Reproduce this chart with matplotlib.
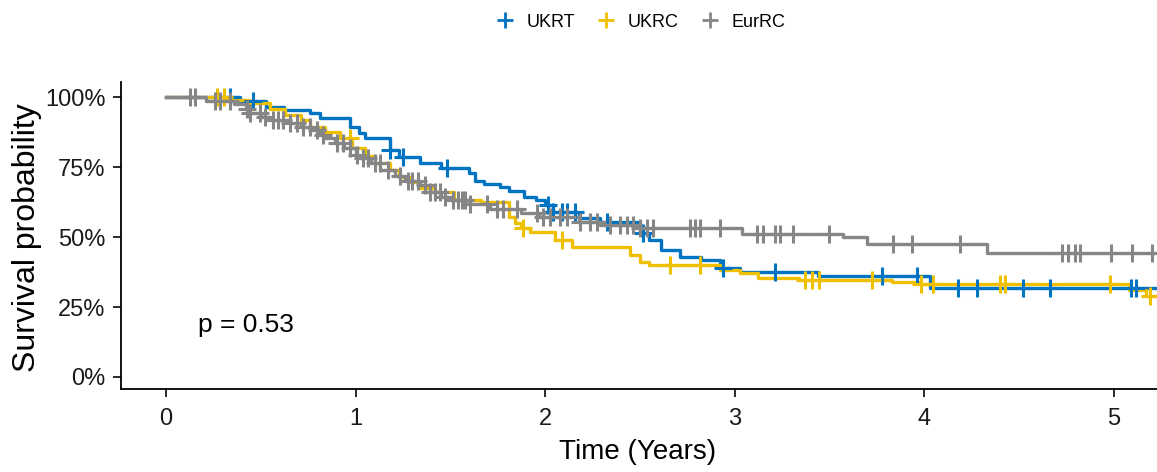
import numpy as np
import matplotlib
matplotlib.use("Agg")
import matplotlib.pyplot as plt
from matplotlib.lines import Line2D

plt.rcParams['font.family'] = ['Liberation Sans', 'DejaVu Sans']

groups = ["UKRT", "UKRC", "EurRC"]
colors = ["#0073C2", "#EFC000", "#868686"]

# Kaplan-Meier steps: event times (years) and survival after each step
ukrt_time = [0, 0.39, 0.53, 0.62, 0.76, 0.81, 0.97, 1.02, 1.05, 1.18, 1.23, 1.34, 1.45,
             1.60, 1.63, 1.68, 1.76, 1.81, 1.89, 1.95, 2.00, 2.04, 2.18, 2.29, 2.50,
             2.55, 2.61, 2.71, 2.82, 2.92, 3.03, 3.44, 4.03, 5.40]
ukrt_surv = [1.0, 0.987, 0.965, 0.954, 0.943, 0.925, 0.893, 0.871, 0.855, 0.81, 0.785,
             0.765, 0.748, 0.73, 0.70, 0.69, 0.678, 0.665, 0.643, 0.632, 0.614, 0.59,
             0.57, 0.553, 0.514, 0.49, 0.455, 0.43, 0.418, 0.39, 0.375, 0.36, 0.32, 0.32]
ukrt_cens = [0.338, 0.459, 1.181, 1.25, 1.482, 2.015, 2.041, 2.089, 2.115, 2.157, 2.326,
             2.516, 2.938, 3.212, 3.776, 3.961, 4.177, 4.277, 4.52, 4.662, 5.09, 5.116]

ukrc_time = [0, 0.31, 0.44, 0.55, 0.63, 0.71, 0.76, 0.84, 0.92, 0.98, 1.05, 1.10, 1.18,
             1.23, 1.29, 1.34, 1.42, 1.52, 1.66, 1.81, 1.84, 1.87, 1.92, 2.05, 2.14,
             2.45, 2.50, 2.55, 2.92, 3.03, 3.12, 3.34, 3.83, 3.97, 5.08, 5.17, 5.40]
ukrc_surv = [1.0, 0.99, 0.978, 0.96, 0.936, 0.918, 0.893, 0.875, 0.854, 0.82, 0.79,
             0.764, 0.74, 0.714, 0.696, 0.675, 0.66, 0.632, 0.625, 0.571, 0.55, 0.532,
             0.518, 0.49, 0.464, 0.436, 0.41, 0.40, 0.382, 0.371, 0.354, 0.346, 0.34,
             0.332, 0.31, 0.29, 0.29]
ukrc_cens = [0.269, 0.306, 0.97, 1.883, 2.089, 2.658, 2.816, 3.37, 3.407, 3.444, 3.724,
             3.982, 4.045, 4.399, 4.425, 4.979, 5.19]

eurrc_time = [0, 0.21, 0.36, 0.42, 0.44, 0.50, 0.55, 0.65, 0.71, 0.76, 0.81, 0.84, 0.89,
              0.94, 1.00, 1.02, 1.08, 1.13, 1.21, 1.26, 1.34, 1.39, 1.45, 1.50, 1.60,
              1.71, 1.87, 1.97, 2.18, 2.29, 2.50, 3.04, 3.57, 3.70, 4.33, 5.40]
eurrc_surv = [1.0, 0.986, 0.975, 0.96, 0.943, 0.93, 0.918, 0.907, 0.893, 0.882, 0.864,
              0.853, 0.836, 0.818, 0.793, 0.782, 0.764, 0.74, 0.72, 0.70, 0.686, 0.66,
              0.643, 0.632, 0.62, 0.60, 0.585, 0.571, 0.555, 0.543, 0.532, 0.511, 0.50,
              0.476, 0.443, 0.443]
eurrc_cens = [0.127, 0.153, 0.258, 0.285, 0.338, 0.427, 0.443, 0.496, 0.522, 0.564, 0.591,
              0.617, 0.654, 0.691, 0.723, 0.759, 0.796, 0.828, 0.902, 0.934, 0.970, 1.007,
              1.039, 1.065, 1.102, 1.129, 1.171, 1.234, 1.276, 1.297, 1.329, 1.366, 1.392,
              1.419, 1.445, 1.472, 1.514, 1.540, 1.561, 1.577, 1.603, 1.693, 1.746, 1.777,
              1.851, 1.957, 1.988, 2.025, 2.078, 2.115, 2.184, 2.236, 2.273, 2.342, 2.395,
              2.431, 2.463, 2.5, 2.537, 2.569, 2.764, 2.790, 2.816, 2.922, 3.117, 3.149,
              3.212, 3.238, 3.307, 3.497, 3.834, 3.935, 4.188, 4.726, 4.757, 4.794, 4.821,
              4.984, 5.095, 5.2]

curves = [(ukrt_time, ukrt_surv, ukrt_cens),
          (ukrc_time, ukrc_surv, ukrc_cens),
          (eurrc_time, eurrc_surv, eurrc_cens)]

p_value = 0.53


def surv_at(times, surv, t):
    idx = np.searchsorted(times, t, side='right') - 1
    return np.asarray(surv)[idx]


fig = plt.figure(figsize=(11.57, 4.72), dpi=100)
ax = fig.add_axes([0.1046, 0.1758, 0.8954, 0.650])

for (t, s, c), col in zip(curves, colors):
    ax.step(t, s, where='post', color=col, lw=2.4, zorder=2)
    ax.plot(c, surv_at(t, s, c), ls='none', marker='+', ms=13, mew=2.2,
            color=col, zorder=3)

ax.set_xlim(-0.237, 5.227)
ax.set_ylim(-0.043, 1.054)
ax.set_xticks(range(0, 6))
ax.set_yticks([0, 0.25, 0.5, 0.75, 1.0])
ax.set_yticklabels(["0%", "25%", "50%", "75%", "100%"])

for side in ['top', 'right']:
    ax.spines[side].set_visible(False)
for side in ['left', 'bottom']:
    ax.spines[side].set_linewidth(1.3)
ax.tick_params(axis='both', direction='out', length=6, width=1.3,
               labelsize=17, pad=5, colors='#1a1a1a')
ax.tick_params(axis='x', pad=8)

ax.set_xlabel("Time (Years)", fontsize=20, va='center')
ax.xaxis.set_label_coords(0.499, -0.205)
ax.set_ylabel("Survival probability", fontsize=23, va='center')
ax.yaxis.set_label_coords(-0.091, 0.495)

ax.text(0.17, 0.186, f"p = {p_value}", fontsize=19, ha='left', va='center')

handles = [Line2D([], [], ls='none', marker='+', ms=11, mew=2.0, color=col)
           for col in colors]
fig.legend(handles, groups, loc='center', bbox_to_anchor=(0.553, 0.953), ncol=3,
           frameon=False, fontsize=13, handletextpad=0.6, columnspacing=1.1,
           handlelength=1.2)

fig.savefig("out.png", dpi=100)
